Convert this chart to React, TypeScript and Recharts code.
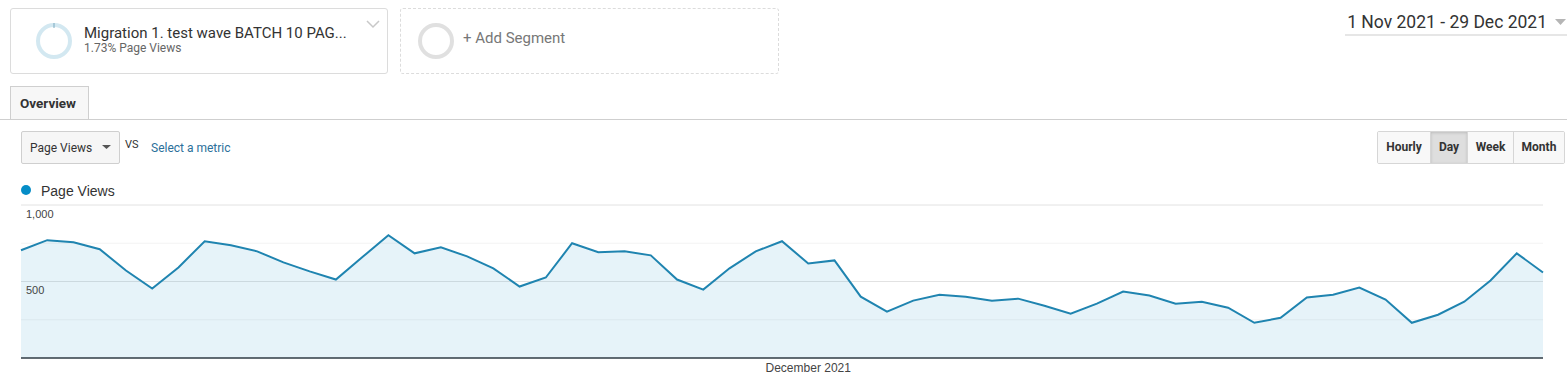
import React from "react";
import { Area, AreaChart, CartesianGrid, ReferenceLine, XAxis, YAxis } from "recharts";

const days = [
  "2021-11-01", "2021-11-02", "2021-11-03", "2021-11-04", "2021-11-05", "2021-11-06",
  "2021-11-07", "2021-11-08", "2021-11-09", "2021-11-10", "2021-11-11", "2021-11-12",
  "2021-11-13", "2021-11-14", "2021-11-15", "2021-11-16", "2021-11-17", "2021-11-18",
  "2021-11-19", "2021-11-20", "2021-11-21", "2021-11-22", "2021-11-23", "2021-11-24",
  "2021-11-25", "2021-11-26", "2021-11-27", "2021-11-28", "2021-11-29", "2021-11-30",
  "2021-12-01", "2021-12-02", "2021-12-03", "2021-12-04", "2021-12-05", "2021-12-06",
  "2021-12-07", "2021-12-08", "2021-12-09", "2021-12-10", "2021-12-11", "2021-12-12",
  "2021-12-13", "2021-12-14", "2021-12-15", "2021-12-16", "2021-12-17", "2021-12-18",
  "2021-12-19", "2021-12-20", "2021-12-21", "2021-12-22", "2021-12-23", "2021-12-24",
  "2021-12-25", "2021-12-26", "2021-12-27", "2021-12-28", "2021-12-29",
];

const pageViews = [
  704, 770, 757, 711, 572, 454, 592, 763, 737, 697, 625, 566, 513, 658, 803,
  684, 724, 664, 586, 467, 526, 750, 691, 697, 671, 513, 447, 586, 697, 763,
  618, 638, 401, 303, 375, 414, 401, 375, 388, 342, 289, 355, 434, 408, 355,
  368, 329, 230, 263, 395, 414, 461, 382, 230, 283, 368, 507, 684, 559,
];

const yTicks = [0, 250, 500, 750, 1000];
const yLabelled = [500, 1000];
const xTicks = ["2021-12-01"];
const xTickLabels: Record<string, string> = { "2021-12-01": "December 2021" };

const chartData = days.map((d, i) => ({ date: d, views: pageViews[i] }));

const BLUE = "#058dc7";
const ROBOTO = "Roboto, Arial, sans-serif";
const ARIAL = "Arial, 'Liberation Sans', sans-serif";

// strong lines on labelled ticks, faint ones in between
function GridLine(props: any) {
  const { x1, x2, y1, y2, index } = props;
  const v = yTicks[index];
  if (v === 0) return <g />;
  const strong = yLabelled.includes(v);
  return <line x1={x1} x2={x2} y1={y1} y2={y2} stroke={strong ? "#e2e2e2" : "#f3f3f3"} strokeWidth={1} />;
}

function Ring({ cx, cy, color, gap }: { cx: number; cy: number; color: string; gap?: boolean }) {
  return (
    <svg width={44} height={44} style={{ position: "absolute", left: cx - 22, top: cy - 22 }}>
      <circle cx={22} cy={22} r={16} fill="none" stroke={color} strokeWidth={4} />
      {gap && <line x1={22} y1={4} x2={22} y2={9} stroke="#7aa9bf" strokeWidth={1} />}
    </svg>
  );
}

const btn: React.CSSProperties = {
  height: 31,
  lineHeight: "31px",
  textAlign: "center",
  fontWeight: 700,
  fontSize: 12,
  color: "#333",
  borderRight: "1px solid #d6d6d6",
  background: "#f8f8f8",
};

export default function App() {
  return (
    <div
      style={{
        position: "absolute",
        left: 0,
        top: 0,
        width: 1567,
        height: 378,
        background: "#fff",
        fontFamily: ROBOTO,
        overflow: "hidden",
      }}
    >
      {/* segment card */}
      <div
        style={{
          position: "absolute",
          left: 10,
          top: 8,
          width: 376,
          height: 64,
          border: "1px solid #dcdcdc",
          borderRadius: 3,
        }}
      />
      <Ring cx={54} cy={41} color="#d3e8f1" gap />
      <div style={{ position: "absolute", left: 84, top: 24, fontSize: 15, lineHeight: "18px", color: "#333", whiteSpace: "nowrap" }}>
        Migration 1. test wave BATCH 10 PAG...
      </div>
      <div style={{ position: "absolute", left: 84, top: 41, fontSize: 12, lineHeight: "14px", color: "#666" }}>
        1.73% Page Views
      </div>
      <svg width={14} height={10} style={{ position: "absolute", left: 366, top: 19 }}>
        <polyline points="1,2 7,8 13,2" fill="none" stroke="#c8c8c8" strokeWidth={1.5} />
      </svg>

      {/* add segment */}
      <div
        style={{
          position: "absolute",
          left: 400,
          top: 8,
          width: 377,
          height: 64,
          border: "1px dashed #dcdcdc",
          borderRadius: 3,
        }}
      />
      <Ring cx={436} cy={41} color="#e0e0e0" />
      <div style={{ position: "absolute", left: 463, top: 29, fontSize: 15, lineHeight: "18px", color: "#777" }}>
        + Add Segment
      </div>

      {/* date range */}
      <div
        style={{
          position: "absolute",
          right: 20,
          top: 11,
          fontSize: 17.5,
          lineHeight: "22px",
          color: "#333",
          whiteSpace: "nowrap",
        }}
      >
        1 Nov 2021 - 29 Dec 2021
      </div>
      <svg width={12} height={8} style={{ position: "absolute", left: 1555, top: 19 }}>
        <polygon points="0,0 11,0 5.5,6" fill="#b5b5b5" />
      </svg>
      <div style={{ position: "absolute", left: 1345, top: 34, width: 222, height: 2, background: "#e6e6e6" }} />

      {/* tab */}
      <div
        style={{
          position: "absolute",
          left: 10,
          top: 86,
          width: 77,
          height: 33,
          border: "1px solid #cfcfcf",
          borderBottom: "none",
          background: "#f7f7f7",
        }}
      />
      <div style={{ position: "absolute", left: 20, top: 94, fontSize: 13.5, fontWeight: 700, lineHeight: "18px", color: "#333" }}>
        Overview
      </div>
      <div style={{ position: "absolute", left: 0, top: 119, width: 1567, height: 1, background: "#cfcfcf" }} />

      {/* metric picker */}
      <div
        style={{
          position: "absolute",
          left: 21,
          top: 131,
          width: 97,
          height: 31,
          border: "1px solid #cfcfcf",
          borderRadius: 2,
          background: "#f6f6f6",
        }}
      />
      <div style={{ position: "absolute", left: 30, top: 140, fontSize: 12, lineHeight: "16px", color: "#333" }}>
        Page Views
      </div>
      <svg width={10} height={6} style={{ position: "absolute", left: 102, top: 145 }}>
        <polygon points="0,0 9,0 4.5,4" fill="#555" />
      </svg>
      <div style={{ position: "absolute", left: 125, top: 138, fontSize: 11, lineHeight: "14px", color: "#333" }}>
        VS
      </div>
      <div style={{ position: "absolute", left: 151, top: 140, fontSize: 12, lineHeight: "16px", color: "#2b6f9a" }}>
        Select a metric
      </div>

      {/* interval buttons */}
      <div
        style={{
          position: "absolute",
          left: 1377,
          top: 131,
          height: 31,
          display: "flex",
          border: "1px solid #d6d6d6",
          borderRadius: 2,
          overflow: "hidden",
        }}
      >
        <div style={{ ...btn, width: 52 }}>Hourly</div>
        <div style={{ ...btn, width: 36, background: "#dedede", boxShadow: "inset 0 1px 3px rgba(0,0,0,0.15)" }}>Day</div>
        <div style={{ ...btn, width: 45 }}>Week</div>
        <div style={{ ...btn, width: 50, borderRight: "none" }}>Month</div>
      </div>

      {/* legend */}
      <div style={{ position: "absolute", left: 21, top: 185, width: 10, height: 10, borderRadius: 5, background: BLUE }} />
      <div style={{ position: "absolute", left: 41, top: 183, fontSize: 14, lineHeight: "16px", color: "#333", fontFamily: ARIAL }}>
        Page Views
      </div>

      {/* chart */}
      <div style={{ position: "absolute", left: 0, top: 0 }}>
        <AreaChart
          width={1567}
          height={378}
          data={chartData}
          margin={{ top: 205, right: 24, bottom: 0, left: 21 }}
        >
          <CartesianGrid vertical={false} horizontal={(p: any) => <GridLine {...p} />} />
          <XAxis
            dataKey="date"
            ticks={xTicks}
            interval={0}
            height={20}
            tickLine={false}
            tickSize={0}
            tickMargin={5}
            axisLine={{ stroke: "#2f3b44", strokeWidth: 1.5 }}
            tickFormatter={(v: string) => xTickLabels[v] ?? ""}
            tick={{ fontSize: 12, fill: "#444", fontFamily: ARIAL }}
          />
          <YAxis hide domain={[0, 1000]} ticks={yTicks} />
          <Area
            type="linear"
            dataKey="views"
            stroke="#1f84b0"
            strokeWidth={2}
            fill={BLUE}
            fillOpacity={0.1}
            dot={false}
            activeDot={false}
            isAnimationActive={false}
          />
          {yLabelled.map((v) => (
            <ReferenceLine
              key={v}
              y={v}
              stroke="none"
              label={{
                value: v.toLocaleString("en-US"),
                position: "insideTopLeft",
                offset: 5,
                fontSize: 11,
                fill: "#444",
                fontFamily: ARIAL,
              }}
            />
          ))}
        </AreaChart>
      </div>
    </div>
  );
}
